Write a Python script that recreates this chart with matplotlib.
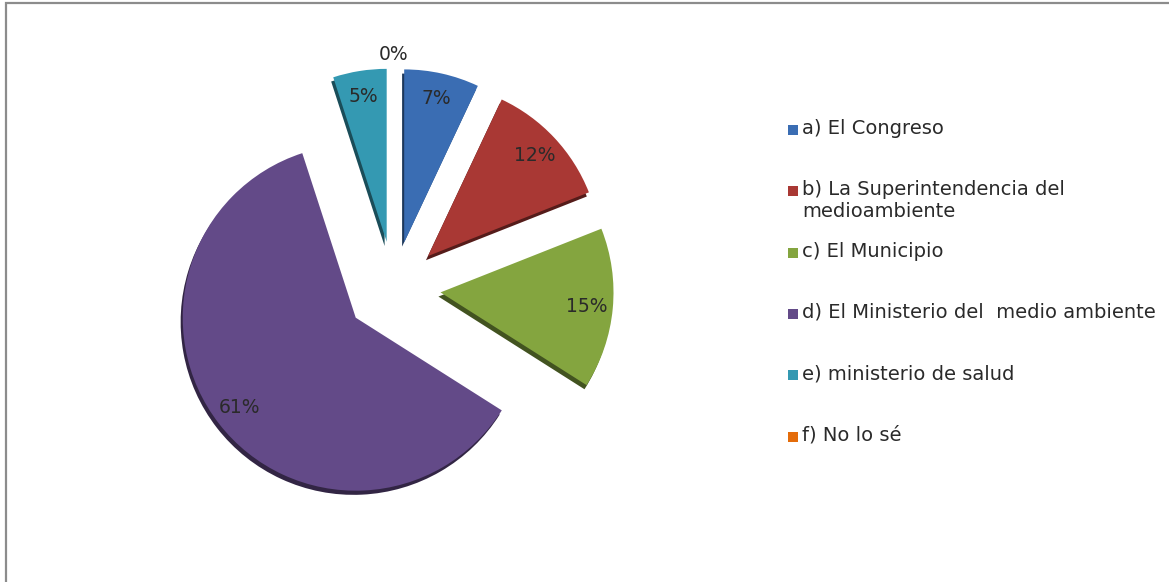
import matplotlib
matplotlib.use('Agg')
import matplotlib.pyplot as plt
import matplotlib.patheffects as pe
from matplotlib.patches import Rectangle
from matplotlib.colors import to_rgb
import math as m

# data
labels = ['a) El Congreso',
          'b) La Superintendencia del\nmedioambiente',
          'c) El Municipio',
          'd) El Ministerio del  medio ambiente',
          'e) ministerio de salud',
          'f) No lo sé']
values = [7, 12, 15, 61, 5, 0]
colors = ['#3a6db3', '#a93834', '#84a53f', '#634a88', '#3499b2', '#e46c0a']

W, H = 1169, 582
R = 173.0          # pie radius in px
CX, CY = 394, 288  # pie centre in px (from top-left)

fig = plt.figure(figsize=(W / 100, H / 100), dpi=100)
fig.patch.set_facecolor('white')
ax = fig.add_axes([0, 0, 1, 1])

explode = [0.27, 0.27, 0.27, 0.28, 0.27, 0.27]
wedges, texts, autotexts = ax.pie(values, explode=explode, colors=colors,
                                  startangle=90, counterclock=False,
                                  autopct='%1.0f%%', pctdistance=0.85,
                                  wedgeprops=dict(linewidth=0),
                                  textprops=dict(fontsize=13.5, color='#2a2a2a'))

ax.set_xlim(-CX / R, (W - CX) / R)
ax.set_ylim(-(H - CY) / R, CY / R)
ax.set_aspect('auto')
ax.axis('off')

for w, c in zip(wedges, colors):
    dark = tuple(v * 0.5 for v in to_rgb(c))
    w.set_path_effects([pe.SimplePatchShadow(offset=(-1.5, -3), shadow_rgbFace=dark, alpha=1.0),
                        pe.Normal()])

# zero slice label sits outside the pie
for w, t, v, e in zip(wedges, autotexts, values, explode):
    if v == 0:
        th = m.radians((w.theta1 + w.theta2) / 2)
        t.set_position(((e + 1.08) * m.cos(th), (e + 1.08) * m.sin(th)))

# legend, one slot per category, marker aligned with the first line
leg_x, leg_y0, leg_step = 788, 130, 61.3
for i, (lab, c) in enumerate(zip(labels, colors)):
    yc = leg_y0 + i * leg_step
    fig.patches.append(Rectangle(((leg_x) / W, 1 - (yc + 5) / H), 10 / W, 10 / H,
                                 transform=fig.transFigure, facecolor=c,
                                 edgecolor='none', figure=fig))
    fig.text((leg_x + 14) / W, 1 - (yc - 11) / H, lab, fontsize=14, color='#2a2a2a',
             va='top', ha='left', linespacing=1.2)

# chart area border (runs off the right and bottom edges)
fig.patches.append(Rectangle((6 / W, -0.05), 1.0, 1.05 - 3 / H,
                             transform=fig.transFigure, facecolor='none',
                             edgecolor='#8c8c8c', linewidth=1.6, figure=fig))

fig.savefig('out.png', dpi=100)
